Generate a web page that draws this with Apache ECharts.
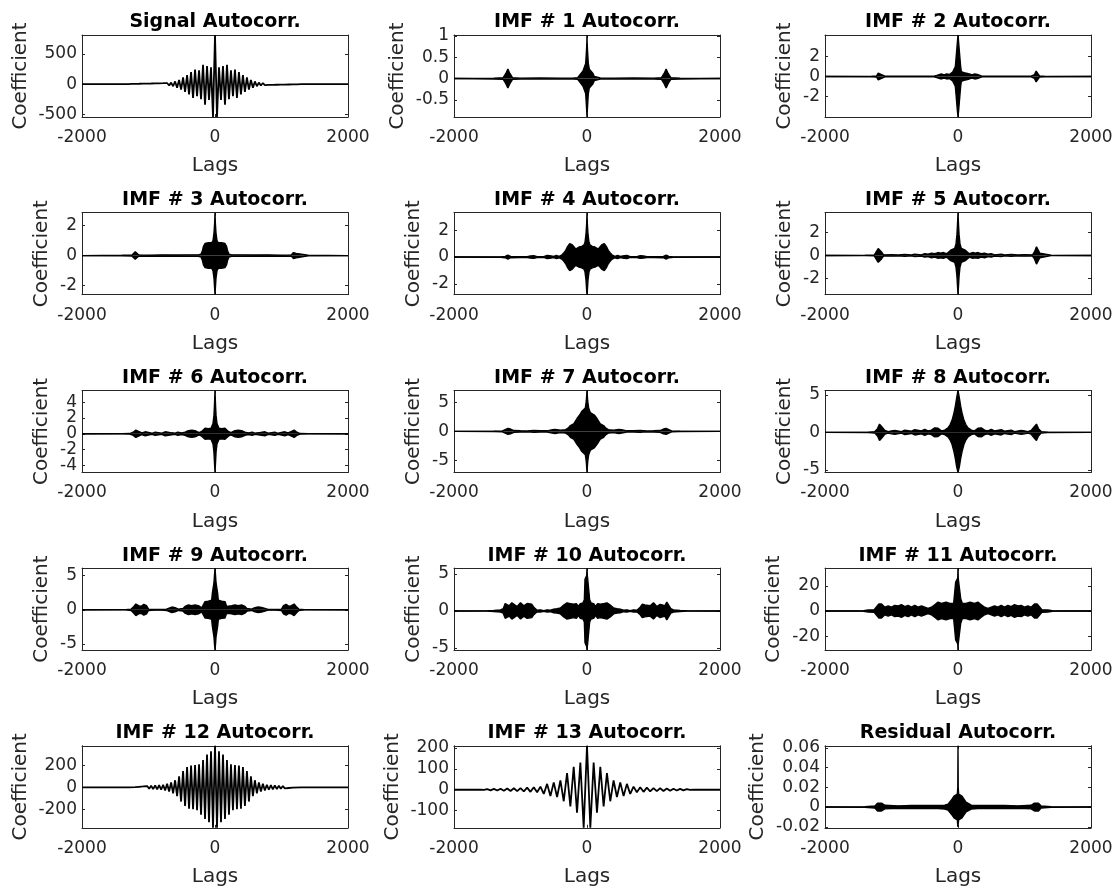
<!DOCTYPE html>
<html>
<head>
<meta charset="utf-8">
<script src="https://cdn.jsdelivr.net/npm/echarts@6/dist/echarts.min.js"></script>
<style>
  html, body { margin: 0; padding: 0; background: #fff; }
  #chart { width: 1115px; height: 888px; }
</style>
</head>
<body>
<div id="chart"></div>
<script>
// subplot titles, axis limits and tick labels (row by row)
var titles = ['Signal Autocorr.', 'IMF # 1 Autocorr.', 'IMF # 2 Autocorr.',
  'IMF # 3 Autocorr.', 'IMF # 4 Autocorr.', 'IMF # 5 Autocorr.',
  'IMF # 6 Autocorr.', 'IMF # 7 Autocorr.', 'IMF # 8 Autocorr.',
  'IMF # 9 Autocorr.', 'IMF # 10 Autocorr.', 'IMF # 11 Autocorr.',
  'IMF # 12 Autocorr.', 'IMF # 13 Autocorr.', 'Residual Autocorr.'];
var yMin = [-544, -0.9, -4.1, -2.6, -2.8, -3.4, -4.9, -7, -5.35, -5.9, -5.3, -31, -370, -182, -0.021];
var yMax = [813, 1.02, 4.2, 2.85, 3.3, 3.7, 5.5, 7, 5.6, 6.1, 5.8, 34, 380, 210, 0.062];
var yTicks = [[-500, 0, 500], [-0.5, 0, 0.5, 1], [-2, 0, 2],
  [-2, 0, 2], [-2, 0, 2], [-2, 0, 2],
  [-4, -2, 0, 2, 4], [-5, 0, 5], [-5, 0, 5],
  [-5, 0, 5], [-5, 0, 5], [-20, 0, 20],
  [-200, 0, 200], [-100, 0, 100, 200], [-0.02, 0, 0.02, 0.04, 0.06]];
var xTicks = [-2000, 0, 2000];

// plots where single oscillations are visible: extrema at positive lags (autocorr is even)
var sigLag = [0, 30, 60, 90, 120, 150, 180, 210, 240, 270, 300, 330, 360, 390, 420, 450, 480, 510, 540, 570, 600,
  630, 660, 690, 720, 750, 780, 810, 840, 870, 900, 930, 960, 990, 1020, 1050, 1080, 1110, 1140, 1170, 1200,
  1230, 1260, 1300, 2000];
var sigVal = [813, -544, 280, -260, 300, -340, 320, -250, 230, -200, 240, -230, 200, -170, 150, -130, 110, -90, 70, -60, 45,
  -35, 25, -22, 18, -16, 15, -14, 14, -12, 12, -10, 10, -9, 9, -8, 8, -6, 6, -5, 5,
  -4, 3, 0, 0];

var imf12Lag = [0, 30, 60, 90, 120, 150, 180, 210, 240, 270, 300, 330, 360, 390, 420, 450, 480, 510, 540, 570, 600,
  630, 660, 690, 720, 750, 780, 810, 840, 870, 900, 930, 960, 990, 1020, 1050, 1080, 1110, 1140, 1170, 1200,
  1300, 2000];
var imf12Val = [380, -370, 330, -320, 300, -290, 250, -250, 210, -210, 205, -200, 200, -195, 185, -170, 150, -130, 100, -80, 65,
  -55, 45, -38, 32, -28, 24, -22, 20, -18, 18, -16, 15, -13, 12, -10, 8, -6, 5, -3, 2,
  0, 0];

var imf13Lag = [0, 50, 100, 150, 200, 250, 300, 350, 400, 450, 500, 550, 600, 650, 700, 750, 800, 850, 900, 950,
  1000, 1050, 1100, 1150, 1200, 1250, 1300, 1350, 1400, 1450, 1500, 1550, 1600, 2000];
var imf13Val = [210, -182, 130, -110, 110, -80, 80, -55, 45, -35, 35, -30, 28, -20, 15, -12, 12, -10, 10, -8,
  8, -7, 7, -6, 6, -5, 5, -4, 4, -3, 3, -1, 0, 0];

// dense IMFs: upper envelope at positive lags, plus the lowest value of the central spike
var imf1Lag = [0, 3, 10, 20, 35, 60, 90, 110, 140, 200, 400, 700, 1000, 1120, 1160, 1190, 1220, 1260, 1400, 2000];
var imf1Env = [1.02, 0.8, 0.6, 0.35, 0.22, 0.18, 0.12, 0.05, 0.02, 0.012, 0.01, 0.012, 0.01, 0.02, 0.12, 0.22, 0.12, 0.02, 0.01, 0];
var imf2Lag = [0, 10, 20, 30, 40, 50, 80, 110, 130, 170, 210, 250, 290, 320, 360, 500, 700, 900, 1100, 1150, 1175, 1200, 1225, 1300, 2000];
var imf2Env = [4.2, 3.4, 2.6, 1.8, 1.0, 0.5, 0.45, 0.35, 0.2, 0.25, 0.15, 0.25, 0.2, 0.1, 0.03, 0.02, 0.03, 0.02, 0.03, 0.2, 0.55, 0.35, 0.05, 0.02, 0];
var imf3Lag = [0, 5, 15, 30, 50, 100, 150, 175, 190, 210, 250, 400, 600, 800, 1000, 1150, 1180, 1200, 1220, 1250, 1400, 2000];
var imf3Env = [2.85, 2.2, 1.5, 1.0, 0.85, 0.85, 0.8, 0.6, 0.3, 0.1, 0.05, 0.05, 0.04, 0.05, 0.03, 0.05, 0.2, 0.25, 0.15, 0.03, 0.02, 0];
var imf4Lag = [0, 5, 15, 30, 45, 80, 120, 170, 220, 260, 290, 320, 350, 380, 420, 460, 500, 560, 600, 650, 750, 800, 850, 900, 1000, 1150, 1190, 1230, 1300, 2000];
var imf4Env = [3.3, 2.5, 1.7, 1.1, 0.9, 0.8, 0.75, 0.6, 0.9, 1.0, 0.8, 0.5, 0.3, 0.15, 0.05, 0.12, 0.04, 0.1, 0.12, 0.03, 0.03, 0.1, 0.08, 0.03, 0.03, 0.05, 0.15, 0.05, 0.01, 0];
var imf5Lag = [0, 8, 16, 30, 50, 80, 110, 140, 170, 220, 260, 300, 350, 400, 450, 500, 550, 650, 700, 800, 900, 1000, 1120, 1150, 1180, 1200, 1230, 1260, 1400, 2000];
var imf5Env = [3.7, 2.6, 1.8, 1.0, 0.6, 0.5, 0.45, 0.3, 0.15, 0.25, 0.2, 0.25, 0.15, 0.2, 0.1, 0.15, 0.05, 0.1, 0.04, 0.08, 0.04, 0.06, 0.05, 0.3, 0.75, 0.6, 0.2, 0.03, 0.02, 0];
var imf6Lag = [0, 8, 16, 30, 60, 100, 150, 200, 240, 300, 350, 400, 450, 500, 560, 600, 650, 750, 800, 900, 950, 1050, 1100, 1150, 1190, 1230, 1280, 1400, 2000];
var imf6Env = [5.5, 3.6, 2.3, 1.3, 0.7, 0.65, 0.7, 0.3, 0.15, 0.4, 0.45, 0.4, 0.2, 0.1, 0.2, 0.08, 0.12, 0.25, 0.08, 0.2, 0.06, 0.25, 0.1, 0.3, 0.47, 0.2, 0.03, 0.02, 0];
var imf7Lag = [0, 10, 25, 50, 80, 110, 150, 200, 250, 280, 320, 400, 480, 520, 600, 700, 800, 900, 1000, 1100, 1150, 1190, 1230, 1280, 1400, 2000];
var imf7Env = [7, 5.2, 4, 3.2, 3.4, 2.8, 2.2, 1.3, 1.0, 0.6, 0.3, 0.2, 0.35, 0.3, 0.1, 0.1, 0.15, 0.08, 0.1, 0.15, 0.4, 0.5, 0.3, 0.05, 0.02, 0];
var imf8Lag = [0, 20, 40, 60, 90, 120, 150, 200, 250, 300, 350, 400, 450, 500, 550, 650, 700, 800, 850, 950, 1000, 1050, 1100, 1150, 1180, 1210, 1250, 1350, 2000];
var imf8Env = [5.6, 4.6, 3.5, 2.6, 1.6, 1.0, 0.6, 0.3, 0.2, 0.55, 0.6, 0.3, 0.2, 0.4, 0.2, 0.35, 0.15, 0.3, 0.1, 0.25, 0.2, 0.1, 0.25, 0.8, 1.1, 0.5, 0.1, 0.02, 0];
var imf9Lag = [0, 8, 15, 40, 50, 100, 150, 175, 200, 250, 300, 350, 400, 450, 480, 550, 600, 650, 700, 730, 800, 900, 1000, 1030, 1070, 1110, 1150, 1190, 1220, 1260, 1350, 2000];
var imf9Env = [6.1, 5, 4, 2.4, 1.4, 1.25, 1.2, 0.5, 0.3, 0.6, 0.7, 0.6, 0.7, 0.5, 0.2, 0.1, 0.3, 0.4, 0.35, 0.1, 0.05, 0.05, 0.1, 0.6, 0.8, 0.5, 0.6, 0.85, 0.5, 0.1, 0.02, 0];
var imf10Lag = [0, 5, 10, 30, 40, 60, 100, 130, 160, 200, 250, 300, 350, 400, 450, 500, 550, 600, 650, 700, 750, 800, 830, 870, 900, 950, 1000, 1050, 1100, 1130, 1170, 1200, 1230, 1260, 1300, 1400, 1500, 2000];
var imf10Env = [5.8, 4.8, 4.4, 4.3, 1.5, 1.1, 1.0, 0.6, 1.0, 0.9, 1.0, 1.1, 0.8, 0.4, 0.3, 0.25, 0.1, 0.15, 0.05, 0.15, 0.1, 0.5, 0.9, 0.8, 1.0, 0.7, 1.1, 0.6, 0.9, 1.1, 0.7, 1.2, 1.0, 0.3, 0.15, 0.08, 0.02, 0];
var imf11Lag = [0, 4, 8, 35, 40, 60, 65, 90, 120, 180, 250, 300, 350, 400, 450, 500, 550, 600, 650, 700, 750, 800, 850, 900, 950, 1000, 1050, 1100, 1150, 1190, 1230, 1260, 1350, 1420, 1500, 2000];
var imf11Env = [34, 26, 24, 23, 10, 9, 6, 5, 6, 7, 6, 7, 5, 3, 2, 3, 4, 3, 4.5, 3, 4.5, 3.5, 5, 4, 4.5, 3, 4, 3, 5.5, 5.5, 3, 1, 0.8, 0.3, 0.05, 0];
var resLag = [0, 3, 10, 30, 60, 90, 120, 150, 200, 300, 500, 700, 900, 1100, 1150, 1180, 1210, 1250, 1400, 2000];
var resEnv = [0.062, 0.02, 0.013, 0.012, 0.011, 0.008, 0.005, 0.003, 0.002, 0.0015, 0.0015, 0.0015, 0.0012, 0.0018, 0.004, 0.0055, 0.004, 0.001, 0.0003, 0];
var spikeLow = [null, -0.9, -4.1, -2.6, -2.8, -3.4, -4.9, -7, -5.35, -5.9, -5.3, -31, null, null, -0.021];

var panels = [
  { lag: sigLag, val: sigVal }, { lag: imf1Lag, env: imf1Env }, { lag: imf2Lag, env: imf2Env },
  { lag: imf3Lag, env: imf3Env }, { lag: imf4Lag, env: imf4Env }, { lag: imf5Lag, env: imf5Env },
  { lag: imf6Lag, env: imf6Env }, { lag: imf7Lag, env: imf7Env }, { lag: imf8Lag, env: imf8Env },
  { lag: imf9Lag, env: imf9Env }, { lag: imf10Lag, env: imf10Env }, { lag: imf11Lag, env: imf11Env },
  { lag: imf12Lag, val: imf12Val }, { lag: imf13Lag, val: imf13Val }, { lag: resLag, env: resEnv }
];

var colLeft = [82, 454, 825];
var rowTop = [35, 212.7, 390.4, 568.1, 745.8];
var plotW = 266, plotH = 82;
var FONT = 'DejaVu Sans';
var AXIS_COLOR = '#262626';

function mirror(lags, vals, sign) {
  var out = [];
  for (var i = lags.length - 1; i > 0; i--) out.push([-lags[i], sign * vals[i]]);
  for (i = 0; i < lags.length; i++) out.push([lags[i], sign * vals[i]]);
  return out;
}

var ctx = document.createElement('canvas').getContext('2d');
ctx.font = '17px "' + FONT + '"';
function labelWidth(ticks) {
  var w = 0;
  ticks.forEach(function (t) { w = Math.max(w, ctx.measureText(String(t)).width); });
  return w;
}
function plain(v) { return String(v); }

var grid = [], xAxis = [], yAxis = [], extraY = [], title = [], series = [];
panels.forEach(function (p, i) {
  var left = colLeft[i % 3], top = rowTop[Math.floor(i / 3)];
  grid.push({ left: left, top: top, width: plotW, height: plotH, outerBoundsMode: 'none' });
  title.push({
    text: titles[i], left: left + plotW / 2, top: top - 22, textAlign: 'center', padding: 0,
    textStyle: { fontFamily: FONT, fontSize: 19, fontWeight: 'bold', color: '#000' }
  });
  var tickStyle = { show: true, inside: true, length: 3, lineStyle: { color: AXIS_COLOR, width: 1 } };
  var lineStyle = { show: true, onZero: false, lineStyle: { color: AXIS_COLOR, width: 1 } };
  xAxis.push({
    gridIndex: i, type: 'value', min: -2000, max: 2000, interval: 2000, position: 'bottom',
    axisLine: lineStyle, axisTick: Object.assign({ customValues: xTicks }, tickStyle), splitLine: { show: false },
    axisLabel: { customValues: xTicks, formatter: plain, fontFamily: FONT, fontSize: 17, color: AXIS_COLOR, margin: 12,
      hideOverlap: false, showMinLabel: true, showMaxLabel: true },
    name: 'Lags', nameLocation: 'middle', nameGap: 39,
    nameTextStyle: { fontFamily: FONT, fontSize: 20, color: AXIS_COLOR }
  });
  xAxis.push({
    gridIndex: i, type: 'value', min: -2000, max: 2000, interval: 2000, position: 'top',
    axisLine: lineStyle, axisTick: Object.assign({ customValues: xTicks }, tickStyle), splitLine: { show: false },
    axisLabel: { show: false }
  });
  var ticks = yTicks[i];
  // labels are split over two axes so that tightly packed ones are not dropped
  var evenTicks = ticks.filter(function (t, k) { return k % 2 === 0; });
  var oddTicks = ticks.filter(function (t, k) { return k % 2 === 1; });
  var labelStyle = { formatter: plain, fontFamily: FONT, fontSize: 17, color: AXIS_COLOR, margin: 5,
    hideOverlap: false, showMinLabel: true, showMaxLabel: true };
  yAxis.push({
    gridIndex: i, type: 'value', min: yMin[i], max: yMax[i], position: 'left',
    axisLine: lineStyle, splitLine: { show: false },
    axisTick: Object.assign({ customValues: ticks }, tickStyle),
    axisLabel: Object.assign({ customValues: evenTicks }, labelStyle),
    name: 'Coefficient', nameLocation: 'middle', nameGap: 5 + labelWidth(ticks) + 8,
    nameTextStyle: { fontFamily: FONT, fontSize: 20, color: AXIS_COLOR }
  });
  yAxis.push({
    gridIndex: i, type: 'value', min: yMin[i], max: yMax[i], position: 'right',
    axisLine: lineStyle, splitLine: { show: false },
    axisTick: Object.assign({ customValues: ticks }, tickStyle),
    axisLabel: { show: false }
  });
  if (oddTicks.length) {
    extraY.push({
      gridIndex: i, type: 'value', min: yMin[i], max: yMax[i], position: 'left',
      axisLine: { show: false, onZero: false }, axisTick: { show: false }, splitLine: { show: false },
      axisLabel: Object.assign({ customValues: oddTicks }, labelStyle)
    });
  }

  var base = { type: 'line', xAxisIndex: 2 * i, yAxisIndex: 2 * i, symbol: 'none', silent: true, animation: false };
  if (p.val) {
    series.push(Object.assign({ data: mirror(p.lag, p.val, 1), lineStyle: { color: '#000', width: 1.8 } }, base));
  } else {
    var lower = mirror(p.lag, p.env, -1);
    lower[p.lag.length - 1] = [0, spikeLow[i]];
    series.push(Object.assign({ data: mirror(p.lag, p.env, 1),
      lineStyle: { color: '#000', width: 1.4 }, areaStyle: { color: '#000', opacity: 1 } }, base));
    series.push(Object.assign({ data: lower,
      lineStyle: { color: '#000', width: 1.4 }, areaStyle: { color: '#000', opacity: 1 } }, base));
  }
});

var chart = echarts.init(document.getElementById('chart'), null, { renderer: 'canvas' });
chart.setOption({
  backgroundColor: '#fff',
  animation: false,
  title: title,
  grid: grid,
  xAxis: xAxis,
  yAxis: yAxis.concat(extraY),
  series: series
});
</script>
</body>
</html>
